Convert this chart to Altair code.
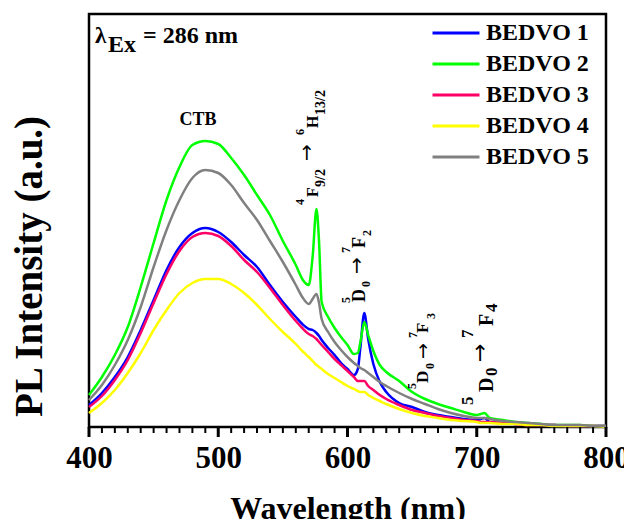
import altair as alt
import pandas as pd

SERIF = "Liberation Serif"
ARROW_FONT = "DejaVu Sans"

wavelength = [400, 410, 420, 430, 440, 450, 460, 470, 480, 490, 500, 510, 520, 530, 540, 550, 560,
              565, 570, 573, 576, 578, 580, 585, 590, 595, 600, 605, 608, 610, 613, 616, 620, 625, 630,
              640, 650, 660, 670, 680, 690, 700, 703, 706, 710,
              720, 730, 740, 750, 760, 770, 780, 790, 800]

bedvo1 = [22, 34, 50, 70, 97, 127, 157, 180, 194, 199, 195, 185, 172, 160, 142, 125, 110,
          103, 98, 97, 94, 91, 87, 79, 72, 64, 58, 52, 58, 80, 114, 88, 63, 45, 35,
          24, 20, 15, 12, 10, 8, 7, 8, 9, 5,
          4, 3, 3, 2, 2, 1, 1, 1, 1]
bedvo2 = [32, 50, 72, 100, 140, 184, 227, 260, 282, 286, 283, 269, 252, 232, 212, 186, 162,
          148, 142, 170, 218, 185, 125, 110, 99, 90, 82, 73, 74, 85, 105, 92, 76, 62, 55,
          46, 35, 28, 23, 19, 15, 12, 13, 14, 9,
          7, 5, 4, 3, 2, 2, 2, 1, 1]
bedvo3 = [20, 31, 47, 67, 94, 124, 153, 176, 190, 194, 191, 181, 167, 155, 139, 122, 106,
          99, 93, 91, 88, 85, 82, 75, 68, 62, 56, 50, 46, 46, 46, 41, 37, 32, 28,
          22, 17, 14, 11, 9, 7, 6, 5, 5, 5,
          4, 3, 2, 2, 2, 1, 1, 1, 1]
bedvo4 = [14, 24, 37, 54, 74, 97, 117, 134, 144, 148, 148, 143, 134, 122, 108, 95, 83,
          76, 70, 66, 62, 60, 58, 53, 49, 45, 41, 38, 36, 35, 35, 32, 29, 26, 23,
          18, 14, 11, 9, 7, 6, 5, 4, 4, 4,
          3, 3, 2, 2, 1, 1, 1, 1, 0]
bedvo5 = [27, 42, 62, 87, 120, 160, 197, 227, 249, 257, 254, 242, 224, 207, 186, 165, 142,
          130, 123, 128, 133, 124, 108, 95, 85, 77, 70, 64, 61, 59, 57, 54, 50, 45, 41,
          34, 28, 23, 18, 14, 11, 9, 9, 9, 8,
          6, 5, 4, 3, 2, 2, 2, 1, 1]

names = ["BEDVO 1", "BEDVO 2", "BEDVO 3", "BEDVO 4", "BEDVO 5"]
colors = ["#0000FF", "#00FF00", "#FF0066", "#FFFF00", "#808080"]
series = [bedvo1, bedvo2, bedvo3, bedvo4, bedvo5]

major_ticks = [400, 500, 600, 700, 800]
minor_ticks = [v for v in range(400, 801, 10) if v % 100 != 0]

# rotated transition labels: letters, superscripts and subscripts
rot_text = ["4", "F", "9/2", "6", "H", "13/2",
            "5", "D", "0", "7", "F", "2",
            "5", "D", "0", "7", "F", "3",
            "5", "D", "0", "7", "F", "4"]
rot_wl = [566.3, 577.2, 582.6, 566.3, 577.2, 582.6,
          601.9, 613.5, 617.4, 601.9, 613.5, 618.2,
          653.0, 662.3, 666.9, 653.8, 662.3, 667.7,
          697.1, 712.6, 715.7, 697.1, 712.6, 715.7]
rot_h = [222, 230, 240, 292, 299, 312,
         124, 125, 140, 174, 179, 191,
         38, 44, 58, 89, 94, 108,
         22, 35, 51, 89, 101, 115]
rot_fs = [12, 16, 14, 12, 16, 14,
          12, 18, 12, 12, 18, 12,
          12, 17, 12, 12, 17, 12,
          17, 20, 17, 17, 20, 17]

# arrows of the transition labels
arr_wl = [573.5, 612.0, 663.0, 707.6]
arr_h = [266, 153, 68, 65]
arr_fs = [20, 20, 19, 22]

hz_text = ["\u03bb", "Ex", "= 286 nm"]
hz_wl = [404.6, 414.7, 441.8]
hz_h = [384, 375, 384]
hz_fs = [23, 24, 24]

ctb_text = ["CTB"]
ctb_wl = [484.3]
ctb_h = [302]

rows = []
for n, vals in zip(names, series):
    for w, v in zip(wavelength, vals):
        rows.append({"wl": w, "h": v, "series": n})
df = pd.DataFrame(rows)

xscale = alt.Scale(domain=[400, 800], nice=False, zero=False)
yscale = alt.Scale(domain=[0, 413], nice=False, zero=False)

x_axis = alt.Axis(values=major_ticks, orient="bottom", ticks=False,
                  labelFont=SERIF, labelFontSize=31, labelFontWeight="bold", labelColor="black",
                  labelPadding=16, labelFlush=False, domain=False, grid=False,
                  title="Wavelength (nm)", titleFont=SERIF, titleFontSize=32,
                  titleFontWeight="bold", titleColor="black", titleY=91,
                  titleBaseline="alphabetic")

y_axis = alt.Axis(labels=False, ticks=False, domain=False, grid=False,
                  title="PL Intensity (a.u.)", titleFont=SERIF, titleFontSize=39,
                  titleFontWeight="bold", titleColor="black", titleX=-48, titleY=252,
                  titleAngle=270, titleBaseline="alphabetic", titleAlign="center")

lines = alt.Chart(df).mark_line(strokeWidth=2.5, interpolate="monotone").encode(
    x=alt.X("wl:Q", scale=xscale, axis=x_axis),
    y=alt.Y("h:Q", scale=yscale, axis=y_axis),
    color=alt.Color("series:N", scale=alt.Scale(domain=names, range=colors),
                    legend=alt.Legend(title="", orient="none", legendX=355, legendY=7,
                                      symbolType="M-2.5,0H2.5", symbolSize=353,
                                      symbolStrokeWidth=3, labelFont=SERIF, labelFontSize=24,
                                      labelFontWeight="bold", labelColor="black",
                                      labelOffset=18, rowPadding=7, padding=0)),
)

# axis tick marks (major and minor) hanging below the frame, drawn through both scales
major_df = pd.DataFrame({"t": major_ticks, "y0": [0] * len(major_ticks),
                         "y1": [-10] * len(major_ticks)})
minor_df = pd.DataFrame({"t": minor_ticks, "y0": [0] * len(minor_ticks),
                         "y1": [-6] * len(minor_ticks)})
major_rules = alt.Chart(major_df).mark_rule(color="black", strokeWidth=3).encode(
    x=alt.X("t:Q", scale=xscale, axis=x_axis),
    y=alt.Y("y0:Q", scale=yscale, axis=y_axis), y2="y1:Q")
minor_rules = alt.Chart(minor_df).mark_rule(color="black", strokeWidth=2).encode(
    x=alt.X("t:Q", scale=xscale, axis=x_axis),
    y=alt.Y("y0:Q", scale=yscale, axis=y_axis), y2="y1:Q")

rot_df = pd.DataFrame({"wl": rot_wl, "h": rot_h, "t": rot_text, "fs": rot_fs})
rot = alt.Chart(rot_df).mark_text(angle=270, align="left", baseline="alphabetic",
                                  font=SERIF, fontWeight="bold", color="black").encode(
    x=alt.X("wl:Q", scale=xscale, axis=x_axis), y=alt.Y("h:Q", scale=yscale, axis=y_axis),
    text="t:N", size=alt.Size("fs:Q", scale=None))

arr_df = pd.DataFrame({"wl": arr_wl, "h": arr_h, "fs": arr_fs})
arr = alt.Chart(arr_df).mark_text(angle=270, align="left", baseline="alphabetic",
                                  font=ARROW_FONT, color="black", text="\u2192").encode(
    x=alt.X("wl:Q", scale=xscale, axis=x_axis), y=alt.Y("h:Q", scale=yscale, axis=y_axis),
    size=alt.Size("fs:Q", scale=None))

hz_df = pd.DataFrame({"wl": hz_wl, "h": hz_h, "t": hz_text, "fs": hz_fs})
hz = alt.Chart(hz_df).mark_text(align="left", baseline="alphabetic",
                                font=SERIF, fontWeight="bold", color="black").encode(
    x=alt.X("wl:Q", scale=xscale, axis=x_axis), y=alt.Y("h:Q", scale=yscale, axis=y_axis),
    text="t:N", size=alt.Size("fs:Q", scale=None))

ctb_df = pd.DataFrame({"wl": ctb_wl, "h": ctb_h, "t": ctb_text})
ctb = alt.Chart(ctb_df).mark_text(align="center", baseline="alphabetic", fontSize=18,
                                  font=SERIF, fontWeight="bold", color="black").encode(
    x=alt.X("wl:Q", scale=xscale, axis=x_axis), y=alt.Y("h:Q", scale=yscale, axis=y_axis),
    text="t:N")

chart = alt.layer(lines, major_rules, minor_rules, rot, arr, hz, ctb).properties(
    width=517, height=413,
    padding={"left": 81, "top": 6, "right": 18, "bottom": 92},
    autosize=alt.AutoSizeParams(type="none"),
    background="white",
).configure_view(stroke="black", strokeWidth=2.5)

chart.save("out.html", embed_options={"renderer": "svg", "actions": False})
